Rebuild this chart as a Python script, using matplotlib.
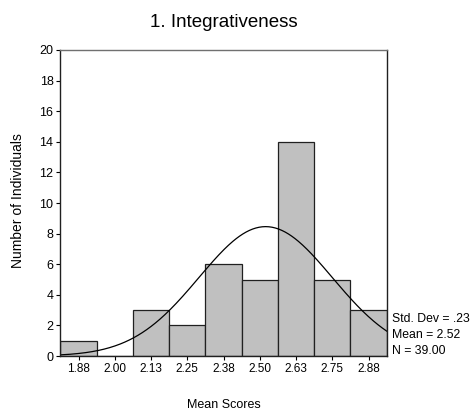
import numpy as np
import matplotlib
matplotlib.use("Agg")
import matplotlib.pyplot as plt

plt.rcParams['font.family'] = ['Liberation Sans', 'DejaVu Sans']

bin_centers = [1.875, 2.000, 2.125, 2.250, 2.375, 2.500, 2.625, 2.750, 2.875]
tick_labels = ["1.88", "2.00", "2.13", "2.25", "2.38", "2.50", "2.63", "2.75", "2.88"]
counts = [1, 0, 3, 2, 6, 5, 14, 5, 3]
std_dev = 0.23
mean = 2.52
n = 39
bin_width = 0.125

fig = plt.figure(figsize=(4.74, 4.18), dpi=100)
ax = fig.add_axes([0.1276, 0.1483, 0.6882, 0.7321])

ax.bar(bin_centers, counts, width=bin_width, color='#c0c0c0', edgecolor='#202020', linewidth=0.9)

xs = np.linspace(bin_centers[0] - bin_width / 2, bin_centers[-1] + bin_width / 2, 300)
ys = n * bin_width / (std_dev * np.sqrt(2 * np.pi)) * np.exp(-0.5 * ((xs - mean) / std_dev) ** 2)
ax.plot(xs, ys, color='black', linewidth=0.9)

ax.set_xlim(bin_centers[0] - bin_width / 2, bin_centers[-1] + bin_width / 2)
ax.set_ylim(0, 20)
ax.set_xticks(bin_centers)
ax.set_xticklabels(tick_labels)
ax.set_yticks(range(0, 21, 2))
ax.tick_params(axis='x', labelsize=8.5, length=3, width=0.8, color='black', pad=2)
ax.tick_params(axis='y', labelsize=9, length=3, width=0.8, color='black', pad=2)

for s in ['left', 'bottom', 'right']:
    ax.spines[s].set_color('#202020')
    ax.spines[s].set_linewidth(1.0)
ax.spines['top'].set_color('#707070')
ax.spines['top'].set_linewidth(1.0)

fig.text(0.472, 0.947, "1. Integrativeness", ha='center', va='center', fontsize=13.5)
fig.text(0.473, 0.017, "Mean Scores", ha='center', va='bottom', fontsize=9)
fig.text(0.038, 0.52, "Number of Individuals", ha='center', va='center', rotation=90, fontsize=10)

stats = [f"Std. Dev = {str(std_dev)[1:]}", f"Mean = {mean:.2f}", f"N = {n:.2f}"]
for i, t in enumerate(stats):
    fig.text(0.826, 1 - (319 + 16 * i) / 418, t, ha='left', va='center', fontsize=8.8)

fig.savefig("out.png", dpi=100)
